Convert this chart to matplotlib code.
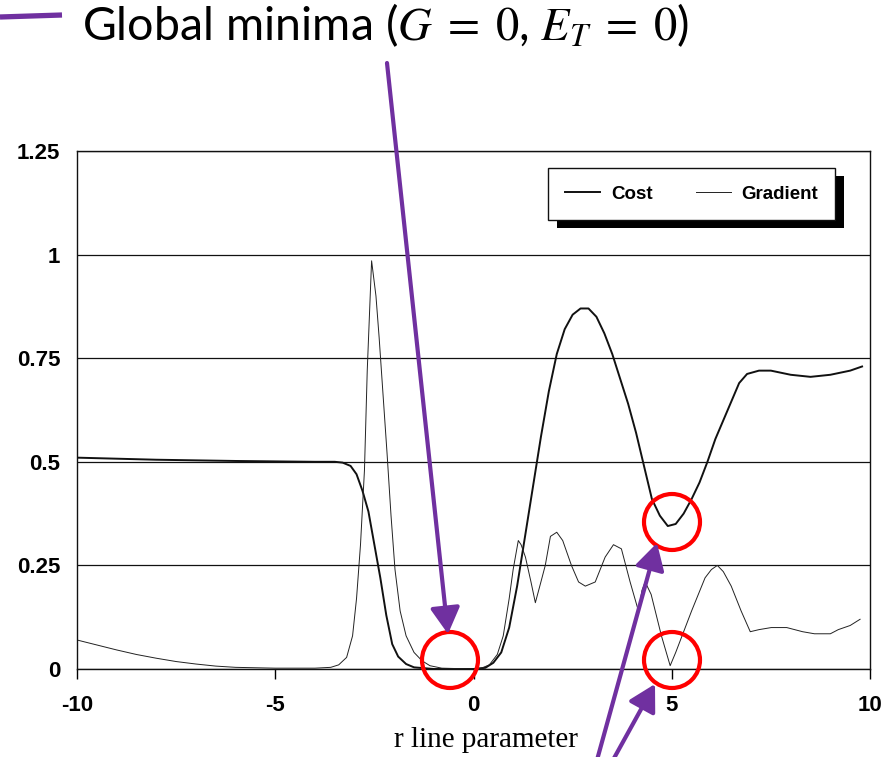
import numpy as np
import matplotlib
matplotlib.use('Agg')
import matplotlib.pyplot as plt
from matplotlib.patches import Rectangle, Ellipse, FancyArrowPatch
from matplotlib.lines import Line2D

plt.rcParams['mathtext.fontset'] = 'stix'

# values
cost_x = [-10, -8, -6, -4, -3.5, -3.3, -3.1, -2.95, -2.8, -2.65, -2.5, -2.35, -2.2, -2.05,
          -1.9, -1.7, -1.5, -1.0, 0.0, 0.3, 0.5, 0.7, 0.9, 1.1, 1.3, 1.5, 1.7, 1.9, 2.1, 2.3,
          2.5, 2.7, 2.9, 3.1, 3.3, 3.5, 3.7, 3.9, 4.1, 4.3, 4.5, 4.7, 4.9, 5.1, 5.3, 5.5, 5.7,
          5.9, 6.1, 6.3, 6.5, 6.7, 6.9, 7.2, 7.5, 8.0, 8.5, 9.0, 9.5, 9.8]
cost_y = [0.51, 0.505, 0.502, 0.50, 0.50, 0.498, 0.49, 0.47, 0.43, 0.38, 0.30, 0.22, 0.13, 0.06,
          0.03, 0.012, 0.004, 0.0, 0.0, 0.003, 0.015, 0.04, 0.10, 0.20, 0.32, 0.44, 0.56, 0.67,
          0.76, 0.82, 0.855, 0.87, 0.87, 0.85, 0.81, 0.76, 0.70, 0.64, 0.57, 0.49, 0.41, 0.37,
          0.345, 0.35, 0.375, 0.41, 0.45, 0.50, 0.555, 0.60, 0.645, 0.69, 0.712, 0.72, 0.72,
          0.71, 0.705, 0.71, 0.72, 0.73]

grad_x = [-10, -9.5, -9, -8.5, -8, -7.5, -7, -6.5, -6, -5, -4, -3.6, -3.4, -3.2, -3.05, -2.95,
          -2.85, -2.75, -2.68, -2.57, -2.46, -2.38, -2.28, -2.18, -2.08, -1.98, -1.85, -1.7,
          -1.5, -1.3, -1.1, -0.8, 0.0, 0.2, 0.4, 0.6, 0.75, 0.9, 1.0, 1.13, 1.2, 1.31, 1.45,
          1.56, 1.7, 1.81, 1.94, 2.1, 2.25, 2.47, 2.65, 2.82, 3.07, 3.32, 3.53, 3.73, 3.95,
          4.16, 4.25, 4.33, 4.48, 4.74, 4.96, 5.1, 5.24, 5.5, 5.84, 6.0, 6.15, 6.3, 6.5, 6.75,
          6.98, 7.2, 7.51, 7.9, 8.3, 8.6, 9.0, 9.2, 9.5, 9.75]
grad_y = [0.07, 0.058, 0.046, 0.035, 0.026, 0.018, 0.012, 0.007, 0.004, 0.002, 0.002, 0.004,
          0.01, 0.028, 0.08, 0.17, 0.30, 0.48, 0.72, 0.985, 0.90, 0.80, 0.66, 0.52, 0.37, 0.24,
          0.14, 0.08, 0.04, 0.02, 0.008, 0.002, 0.0, 0.002, 0.01, 0.035, 0.08, 0.17, 0.24,
          0.31, 0.30, 0.27, 0.21, 0.16, 0.21, 0.25, 0.32, 0.33, 0.31, 0.25, 0.21, 0.20, 0.21,
          0.27, 0.30, 0.29, 0.21, 0.14, 0.19, 0.21, 0.18, 0.08, 0.008, 0.04, 0.075, 0.14, 0.22,
          0.24, 0.25, 0.235, 0.20, 0.14, 0.09, 0.095, 0.10, 0.10, 0.09, 0.085, 0.085, 0.095,
          0.105, 0.12]

x_ticks = [-10, -5, 0, 5, 10]
y_ticks = [0, 0.25, 0.5, 0.75, 1, 1.25]
y_tick_labels = ['0', '0.25', '0.5', '0.75', '1', '1.25']

W, H = 893, 757
PURPLE = '#7030A0'


def fx(x):
    return x / W


def fy(y):
    return 1 - y / H


fig = plt.figure(figsize=(W / 100, H / 100), dpi=100)
ax = fig.add_axes([fx(77), fy(669), (870 - 77) / W, (669 - 151) / H])

ax.plot(cost_x, cost_y, color='#111111', lw=1.4, label='Cost')
ax.plot(grad_x, grad_y, color='#222222', lw=0.7, label='Gradient')

ax.set_xlim(-10, 10)
ax.set_ylim(0, 1.25)
ax.set_xticks(x_ticks)
ax.set_xticklabels([str(t) for t in x_ticks])
ax.set_yticks(y_ticks)
ax.set_yticklabels(y_tick_labels)
ax.yaxis.grid(True, color='#111111', lw=0.9)
ax.tick_params(axis='y', length=0, pad=12)
ax.tick_params(axis='x', length=7, width=1, direction='out', pad=12)
for lab in ax.get_xticklabels() + ax.get_yticklabels():
    lab.set_fontfamily('Liberation Sans')
    lab.set_fontweight('bold')
    lab.set_fontsize(16)
for sp in ax.spines.values():
    sp.set_linewidth(1.0)
    sp.set_color('#111111')
ax.set_xlabel('r line parameter', family='Liberation Serif', fontsize=21)
ax.xaxis.set_label_coords((486 - 77) / 793, -(740 - 669) / 518)
ax.xaxis.label.set_va('center')

# legend: boxed with a solid black drop shadow
bx0, by0, bx1, by1 = 548, 168, 835, 220
ax.add_patch(Rectangle((fx(bx0 + 9), fy(by1 + 8)), (bx1 - bx0) / W, (by1 - by0) / H,
                       transform=fig.transFigure, facecolor='black', edgecolor='none',
                       zorder=3, clip_on=False))
ax.add_patch(Rectangle((fx(bx0), fy(by1)), (bx1 - bx0) / W, (by1 - by0) / H,
                       transform=fig.transFigure, facecolor='white', edgecolor='#111111',
                       lw=1.0, zorder=4, clip_on=False))
leg = ax.legend(loc='center', bbox_to_anchor=(fx((bx0 + bx1) / 2), fy((by0 + by1) / 2)),
                bbox_transform=fig.transFigure, ncol=2, frameon=False, handlelength=1.9,
                columnspacing=2.3, handletextpad=0.55,
                prop={'family': 'Liberation Sans', 'weight': 'bold', 'size': 13.5})
leg.set_zorder(6)

# annotation overlay
fig.text(fx(82), fy(40), r'Global minima ($G\;=\;0$, $E_T\;=\;0$)', family='Lato',
         fontsize=33.5, va='baseline', ha='left')
fig.add_artist(Line2D([fx(0), fx(62)], [fy(17), fy(15)], transform=fig.transFigure,
                      color=PURPLE, lw=3.8, solid_capstyle='butt'))

arrows = [((387, 63), (448, 634)), ((597, 760), (657, 543)), ((613, 760), (655, 684))]
for (x0, y0), (x1, y1) in arrows:
    fig.add_artist(FancyArrowPatch((fx(x0), fy(y0)), (fx(x1), fy(y1)), transform=fig.transFigure,
                                   arrowstyle='-|>,head_length=0.8,head_width=0.45',
                                   mutation_scale=20, color=PURPLE, lw=3.0,
                                   shrinkA=0, shrinkB=0, zorder=10))

for cx, cy in [(450, 660), (672, 522), (672, 660)]:
    fig.add_artist(Ellipse((fx(cx), fy(cy)), 56 / W, 56 / H, transform=fig.transFigure,
                           facecolor='none', edgecolor='#FF0000', lw=3.0, zorder=9))

fig.savefig('out.png', dpi=100)
